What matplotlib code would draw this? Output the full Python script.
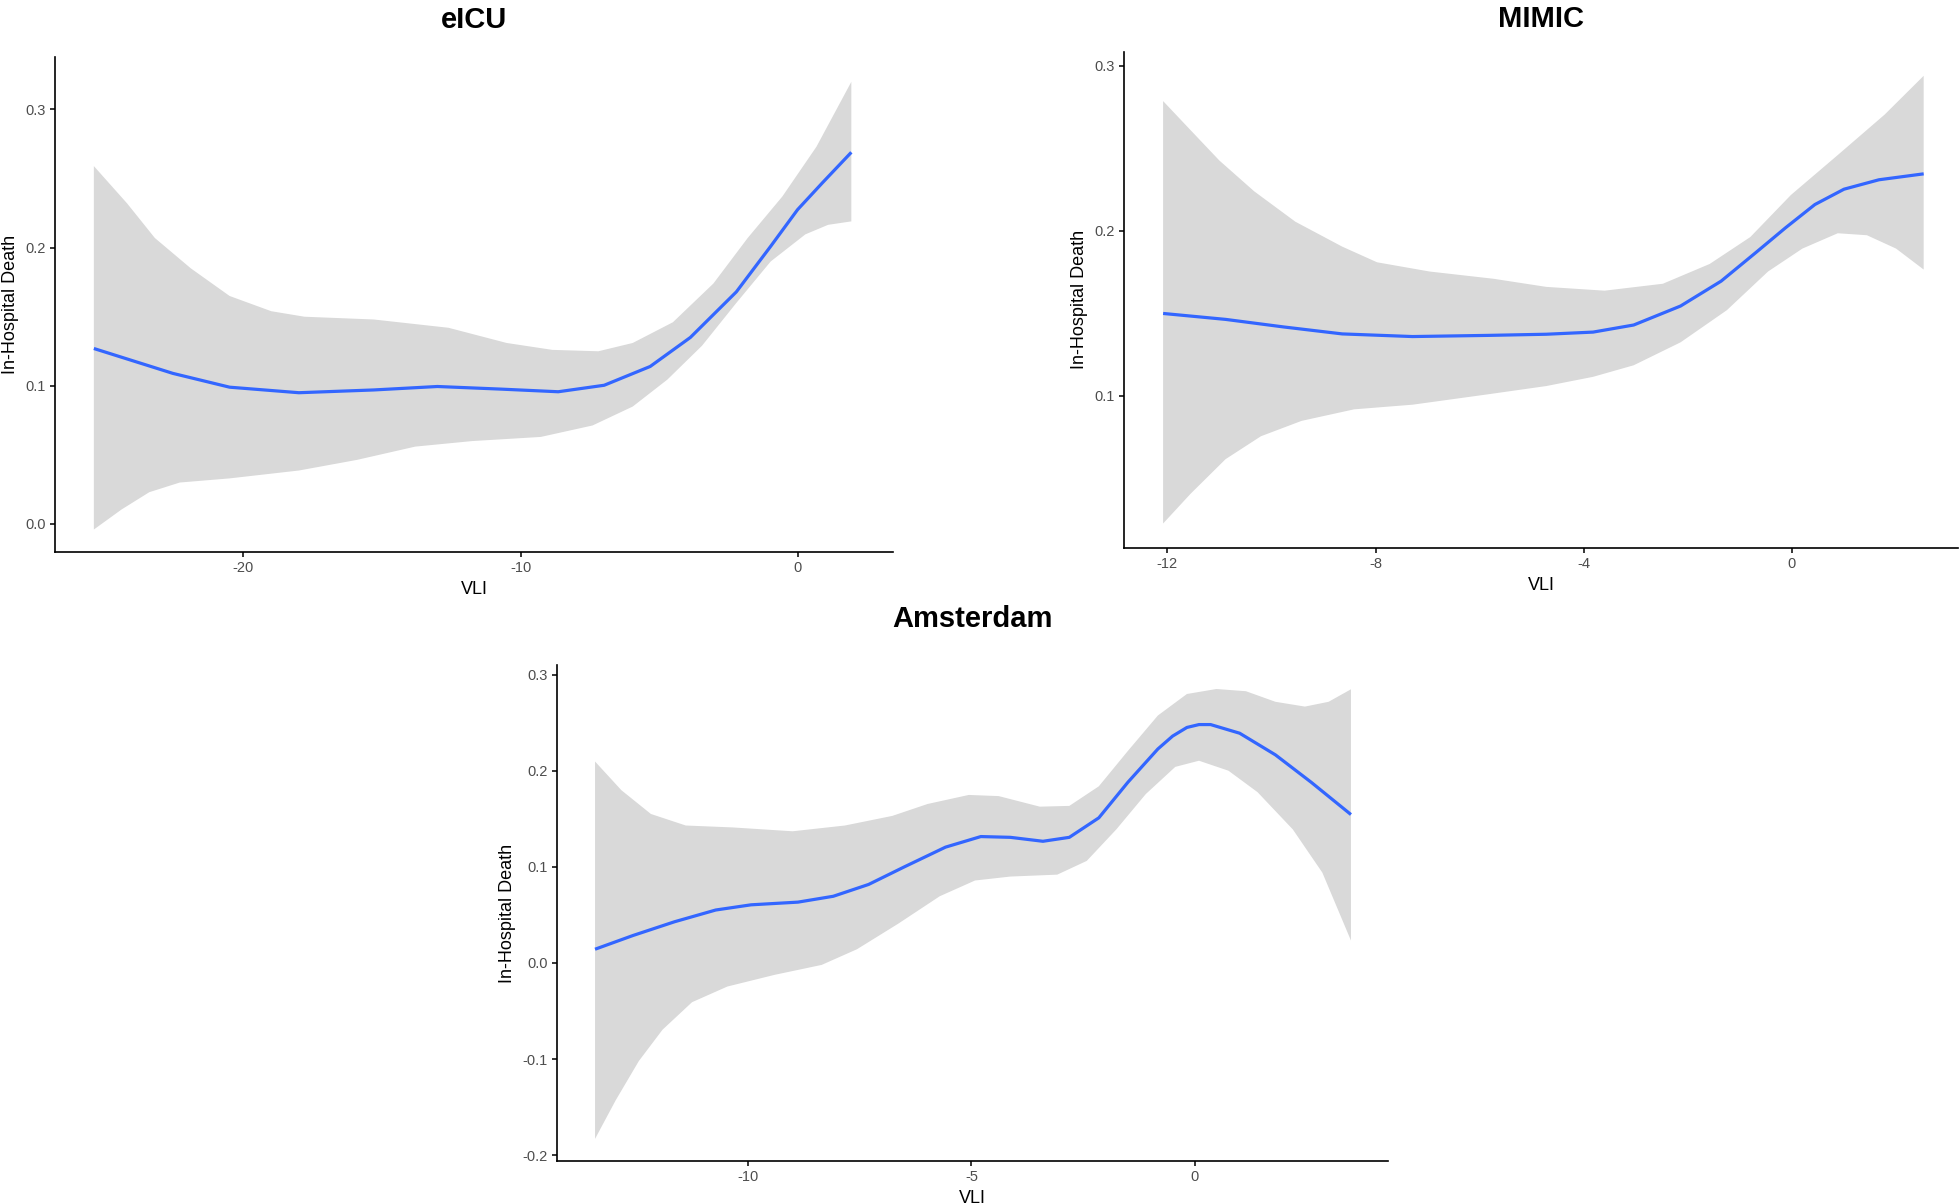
import numpy as np
import matplotlib
matplotlib.use("Agg")
import matplotlib.pyplot as plt

plt.rcParams["font.family"] = ["Liberation Sans", "DejaVu Sans"]
plt.rcParams["axes.unicode_minus"] = False

# ---- eICU ----
eicu_fit_x = [-25.4, -22.55, -20.5, -18.0, -15.3, -13.0, -10.7, -8.64, -6.98, -5.32,
              -3.87, -2.21, -0.97, 0.0, 0.9, 1.94]
eicu_fit_y = [0.127, 0.109, 0.099, 0.095, 0.097, 0.0995, 0.0976, 0.0957, 0.1004, 0.114,
              0.135, 0.168, 0.201, 0.2275, 0.247, 0.269]
eicu_up_x = [-25.4, -24.2, -23.2, -21.9, -20.5, -19.0, -17.8, -15.3, -12.6, -10.5,
             -8.85, -7.19, -5.95, -4.5, -3.04, -1.8, -0.55, 0.68, 1.94]
eicu_up_y = [0.259, 0.232, 0.207, 0.185, 0.165, 0.154, 0.150, 0.148, 0.142, 0.131,
             0.126, 0.125, 0.131, 0.146, 0.174, 0.207, 0.237, 0.273, 0.320]
eicu_lo_x = [-25.4, -24.4, -23.4, -22.3, -20.5, -18.0, -15.9, -13.8, -11.75, -9.27,
             -7.4, -5.95, -4.7, -3.45, -2.21, -0.97, 0.28, 1.1, 1.94]
eicu_lo_y = [-0.004, 0.0105, 0.023, 0.030, 0.033, 0.0387, 0.0464, 0.056, 0.060, 0.063,
             0.0713, 0.085, 0.1045, 0.129, 0.160, 0.190, 0.2096, 0.2165, 0.219]

# ---- MIMIC ----
mimic_fit_x = [-12.08, -10.88, -9.76, -8.64, -7.29, -5.84, -4.72, -3.82, -3.04, -2.14,
               -1.36, -0.69, -0.12, 0.44, 1.0, 1.67, 2.53]
mimic_fit_y = [0.150, 0.1464, 0.1418, 0.1376, 0.136, 0.1367, 0.1374, 0.1387, 0.143, 0.1545,
               0.1696, 0.187, 0.202, 0.216, 0.2253, 0.231, 0.2346]
mimic_up_x = [-12.08, -11.55, -11.0, -10.33, -9.54, -8.64, -7.97, -6.96, -5.73, -4.72,
              -3.6, -2.48, -1.58, -0.8, -0.02, 0.88, 1.78, 2.53]
mimic_up_y = [0.2787, 0.261, 0.2427, 0.224, 0.2056, 0.1905, 0.181, 0.1754, 0.171, 0.1661,
              0.1638, 0.168, 0.180, 0.1963, 0.2218, 0.246, 0.2705, 0.294]
mimic_lo_x = [-12.08, -11.55, -10.88, -10.2, -9.42, -8.41, -7.29, -5.84, -4.72, -3.82,
              -3.04, -2.14, -1.25, -0.46, 0.2, 0.88, 1.44, 2.0, 2.53]
mimic_lo_y = [0.0227, 0.0408, 0.0617, 0.0756, 0.0849, 0.0919, 0.0947, 0.101, 0.106, 0.1116,
              0.1186, 0.1325, 0.152, 0.1754, 0.1893, 0.1986, 0.1974, 0.1893, 0.1766]

# ---- Amsterdam ----
ams_fit_x = [-13.42, -12.57, -11.64, -10.72, -9.93, -8.88, -8.09, -7.3, -6.5, -5.58,
             -4.79, -4.13, -3.4, -2.81, -2.15, -1.5, -0.83, -0.5, -0.18, 0.09,
             0.35, 1.0, 1.8, 2.6, 3.49]
ams_fit_y = [0.0143, 0.0286, 0.0429, 0.0551, 0.0605, 0.0633, 0.0694, 0.0817, 0.100, 0.1205,
             0.1315, 0.1307, 0.1266, 0.1307, 0.151, 0.188, 0.2226, 0.236, 0.245, 0.248,
             0.248, 0.239, 0.2165, 0.188, 0.1544]
ams_up_x = [-13.42, -12.83, -12.17, -11.39, -10.34, -9.0, -7.83, -6.77, -5.98, -5.06,
            -4.39, -3.47, -2.81, -2.15, -1.5, -0.83, -0.18, 0.48, 1.14, 1.8,
            2.46, 2.99, 3.49]
ams_up_y = [0.2096, 0.1797, 0.155, 0.143, 0.141, 0.137, 0.143, 0.153, 0.1654, 0.1748,
            0.1736, 0.1626, 0.1634, 0.1838, 0.2206, 0.2574, 0.2798, 0.285, 0.2827, 0.2717,
            0.2667, 0.2717, 0.2847]
ams_lo_x = [-13.42, -12.96, -12.44, -11.91, -11.25, -10.46, -9.4, -8.35, -7.56, -6.64,
            -5.71, -4.92, -4.13, -3.08, -2.42, -1.76, -1.1, -0.44, 0.09, 0.75,
            1.4, 2.19, 2.85, 3.49]
ams_lo_y = [-0.183, -0.143, -0.102, -0.0694, -0.0408, -0.0245, -0.0123, -0.002, 0.0143, 0.0408,
            0.0694, 0.0858, 0.0899, 0.0919, 0.1062, 0.1389, 0.1757, 0.204, 0.2104, 0.200,
            0.1777, 0.1389, 0.094, 0.0233]

line_color = "#3366FF"
band_color = "#D9D9D9"

panels = [
    dict(title="eICU", rect=[0.0281, 0.5415, 0.4276, 0.4112], pad=21,
         fit=(eicu_fit_x, eicu_fit_y), up=(eicu_up_x, eicu_up_y), lo=(eicu_lo_x, eicu_lo_y),
         xticks=[-20, -10, 0], yticks=[0.0, 0.1, 0.2, 0.3],
         xlim=(-26.8, 3.45), ylim=(-0.0203, 0.338), ylab_x=-0.043),
    dict(title="MIMIC", rect=[0.5735, 0.5449, 0.4255, 0.4120], pad=18,
         fit=(mimic_fit_x, mimic_fit_y), up=(mimic_up_x, mimic_up_y), lo=(mimic_lo_x, mimic_lo_y),
         xticks=[-12, -8, -4, 0], yticks=[0.1, 0.2, 0.3],
         xlim=(-12.83, 3.19), ylim=(0.0079, 0.3085), ylab_x=-0.043),
    dict(title="Amsterdam", rect=[0.2842, 0.0357, 0.4240, 0.4120], pad=27,
         fit=(ams_fit_x, ams_fit_y), up=(ams_up_x, ams_up_y), lo=(ams_lo_x, ams_lo_y),
         xticks=[-10, -5, 0], yticks=[-0.2, -0.1, 0.0, 0.1, 0.2, 0.3],
         xlim=(-14.27, 4.32), ylim=(-0.206, 0.310), ylab_x=-0.049),
]

fig = plt.figure(figsize=(19.6, 12.04), dpi=100)

for p in panels:
    ax = fig.add_axes(p["rect"])
    ux, uy = p["up"]
    lx, ly = p["lo"]
    ax.fill(np.concatenate([ux, lx[::-1]]), np.concatenate([uy, ly[::-1]]),
            color=band_color, linewidth=0)
    ax.plot(p["fit"][0], p["fit"][1], color=line_color, linewidth=2.3,
            solid_capstyle="butt", solid_joinstyle="round")
    ax.set_xlim(*p["xlim"])
    ax.set_ylim(*p["ylim"])
    ax.set_xticks(p["xticks"])
    ax.set_xticklabels([f"{t:g}" for t in p["xticks"]])
    ax.set_yticks(p["yticks"])
    ax.set_yticklabels([f"{t:.1f}" for t in p["yticks"]])
    for side in ("top", "right"):
        ax.spines[side].set_visible(False)
    for side in ("left", "bottom"):
        ax.spines[side].set_linewidth(1.2)
        ax.spines[side].set_color("black")
    ax.tick_params(axis="both", length=3.3, width=1.1, color="black",
                   labelsize=10.5, labelcolor="#4D4D4D", pad=3.5)
    ax.set_xlabel("VLI", fontsize=13, labelpad=4)
    ax.set_ylabel("In-Hospital Death", fontsize=13)
    ax.yaxis.set_label_coords(p["ylab_x"], 0.5)
    ax.set_title(p["title"], fontsize=21, fontweight="bold", pad=p["pad"])

fig.savefig("out.png", dpi=100, facecolor="white")
